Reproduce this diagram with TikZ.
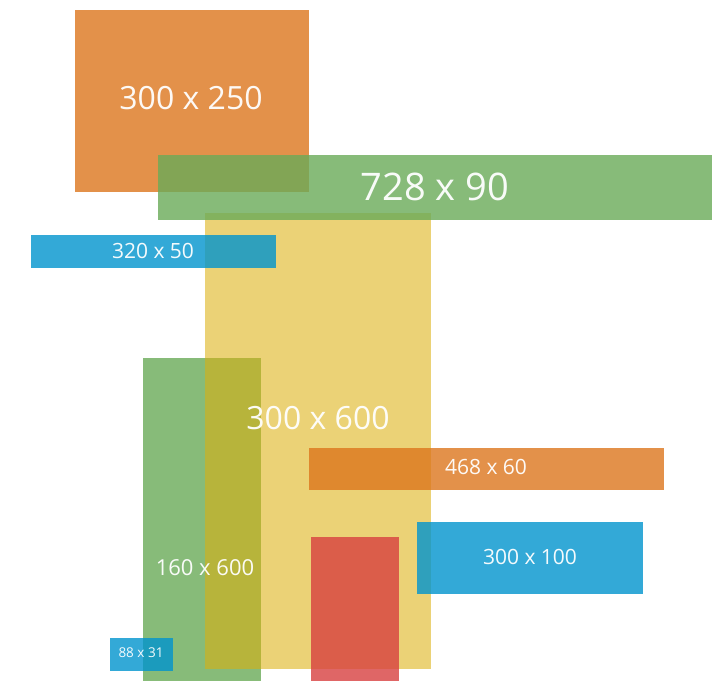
\documentclass[tikz,border=0pt]{standalone}
\usepackage{fontspec}
\setmainfont{Open Sans}
\definecolor{cOrange}{RGB}{221,118,29}
\definecolor{cGreen}{RGB}{106,171,88}
\definecolor{cYellow}{RGB}{221,175,12}
\definecolor{cBlue}{RGB}{1,148,206}
\definecolor{cRed}{RGB}{216,64,64}
\tikzset{
  adbox/.style={draw=none, fill opacity=0.8, inner sep=0pt, outer sep=0pt, anchor=north west},
  adlabel/.style={text=white, inner sep=0pt, anchor=center, text opacity=0.95},
}
\begin{document}
\begin{tikzpicture}[x=1pt,y=1pt]
\clip (0,0) rectangle (728,-680);
\fill[white] (0,0) rectangle (728,-680);
% boxes (back to front)
\node[adbox, fill=cOrange, minimum width=234pt, minimum height=182pt] (b300x250) at (75,-10) {};
\node[adbox, fill=cGreen, minimum width=118pt, minimum height=330pt] (b160x600) at (143,-358) {};
\node[adbox, fill=cYellow, fill opacity=0.56, minimum width=226pt, minimum height=456pt] (b300x600) at (205,-213) {};
\node[adbox, fill=cGreen, minimum width=554pt, minimum height=65pt] (b728x90) at (158,-155) {};
\node[adbox, fill=cBlue, minimum width=245pt, minimum height=33pt] (b320x50) at (31,-235) {};
\node[adbox, fill=cOrange, minimum width=355pt, minimum height=42pt] (b468x60) at (309,-448) {};
\node[adbox, fill=cBlue, minimum width=226pt, minimum height=72pt] (b300x100) at (417,-522) {};
\node[adbox, fill=cRed, minimum width=88pt, minimum height=150pt] (bred) at (311,-537) {};
\node[adbox, fill=cBlue, minimum width=63pt, minimum height=33pt] (b88x31) at (110,-638) {};
% labels
\node[adlabel, font=\fontsize{32}{38}\selectfont] (t300x250) at (191,-98) {300 x 250};
\node[adlabel, font=\fontsize{38}{44}\selectfont] (t728x90) at (435,-187) {728 x 90};
\node[adlabel, font=\fontsize{21}{25}\selectfont] (t320x50) at (153,-251) {320 x 50};
\node[adlabel, font=\fontsize{32}{38}\selectfont] (t300x600) at (318,-418) {300 x 600};
\node[adlabel, font=\fontsize{21}{25}\selectfont] (t468x60) at (486,-467) {468 x 60};
\node[adlabel, font=\fontsize{21}{25}\selectfont] (t300x100) at (530,-557) {300 x 100};
\node[adlabel, font=\fontsize{22}{26}\selectfont] (t160x600) at (205,-568) {160 x 600};
\node[adlabel, font=\fontsize{13.5}{16}\selectfont] (t88x31) at (141,-653) {88 x 31};
\end{tikzpicture}
\end{document}
